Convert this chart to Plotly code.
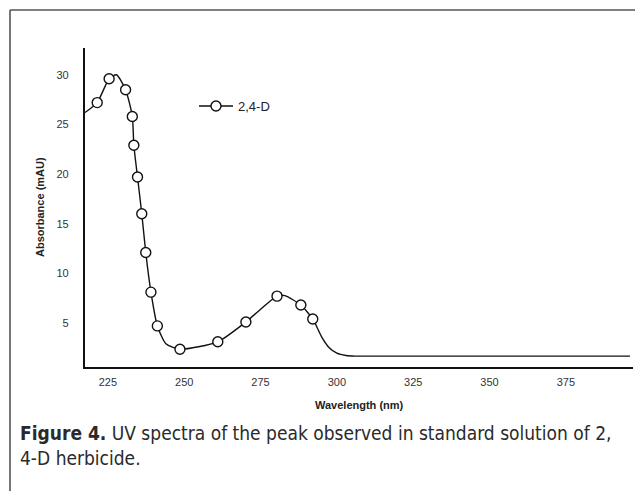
import plotly.graph_objects as go

# ---- data ----
marker_wavelength = [221.5, 225.4, 230.8, 233.0, 233.5, 234.7, 236.1, 237.4, 239.1, 241.2,
                     248.6, 261.0, 270.2, 280.4, 288.2, 292.1]
marker_absorbance = [27.2, 29.6, 28.5, 25.8, 22.9, 19.7, 16.0, 12.1, 8.1, 4.7,
                     2.35, 3.1, 5.1, 7.7, 6.8, 5.4]

# full spectrum trace (includes the points between markers)
curve_wavelength = [217.5, 221.5, 225.4, 227.8, 230.8, 233.0, 233.5, 234.7, 236.1, 237.4, 239.1,
                    241.2, 244.0, 248.6, 261.0, 270.2, 280.4, 283.0, 288.2, 292.1,
                    295.0, 297.5, 300.0, 303.0, 306.0, 396.0]
curve_absorbance = [26.2, 27.2, 29.6, 30.0, 28.5, 25.8, 22.9, 19.7, 16.0, 12.1, 8.1,
                    4.7, 2.9, 2.35, 3.1, 5.1, 7.7, 7.75, 6.8, 5.4,
                    3.6, 2.5, 1.95, 1.72, 1.66, 1.66]

x_ticks = [225, 250, 275, 300, 325, 350, 375]
y_ticks = [5, 10, 15, 20, 25, 30]

series_name = "2,4-D"
x_title = "Wavelength (nm)"
y_title = "Absorbance (mAU)"
caption_line1 = "<b>Figure 4.</b> UV spectra of the peak observed in standard solution of 2,"
caption_line2 = "4-D herbicide."

# ---- layout geometry ----
# the page body has an 8px margin, so the figure starts at screen (8, 8)
OFF = 8
W, H = 643 - OFF, 491 - OFF
SL, SR, ST, SB = 85, 633, 48, 367          # plot area in screen pixels
L = SL - OFF
R = W - (SR - OFF)
T = ST - OFF
B = H - (SB - OFF)
PW = W - L - R
PH = H - T - B


def px_x(sx):
    return (sx - OFF - L) / PW


def px_y(sy):
    return (H - B - (sy - OFF)) / PH


fig = go.Figure()

fig.add_trace(go.Scatter(
    x=curve_wavelength, y=curve_absorbance, mode="lines",
    line=dict(color="#111111", width=1.4, shape="spline", smoothing=0.6),
    showlegend=False, hoverinfo="skip"))

fig.add_trace(go.Scatter(
    x=marker_wavelength, y=marker_absorbance, mode="markers",
    marker=dict(symbol="circle", size=10, color="white",
                line=dict(color="#111111", width=1.4)),
    name=series_name, showlegend=False))

# legend-only trace so the legend shows line + open circle
fig.add_trace(go.Scatter(
    x=[None], y=[None], mode="lines+markers",
    line=dict(color="#111111", width=1.4),
    marker=dict(symbol="circle", size=10, color="white",
                line=dict(color="#111111", width=1.4)),
    name=series_name, showlegend=True))

axis_font = dict(family="Liberation Sans, Arial, sans-serif", size=11, color="#333333")

fig.update_layout(
    width=W, height=H,
    margin=dict(l=L, r=R, t=T, b=B, pad=0),
    paper_bgcolor="white", plot_bgcolor="white",
    showlegend=True,
    legend=dict(x=px_x(194), y=px_y(106), xanchor="left", yanchor="middle",
                itemwidth=34,
                bgcolor="rgba(0,0,0,0)", borderwidth=0,
                font=dict(family="Liberation Sans, Arial, sans-serif", size=13, color="#222222")),
    xaxis=dict(range=[217.5, 397], tickvals=x_ticks, showgrid=False, zeroline=False,
               showline=True, linecolor="#111111", linewidth=2.2, ticks="",
               ticklabelstandoff=4, tickfont=axis_font, mirror=False),
    yaxis=dict(range=[0.56, 32.7], tickvals=y_ticks, showgrid=False, zeroline=False,
               showline=True, linecolor="#111111", linewidth=2.2, ticks="",
               ticklabelstandoff=12, tickfont=axis_font, mirror=False),
)

title_font = dict(family="Liberation Sans, Arial, sans-serif", size=11, color="#222222")
fig.add_annotation(text="<b>" + x_title + "</b>", xref="paper", yref="paper",
                   x=px_x(359), y=px_y(405), xanchor="center", yanchor="middle",
                   showarrow=False, font=title_font)
fig.add_annotation(text="<b>" + y_title + "</b>", xref="paper", yref="paper",
                   x=px_x(40), y=px_y(207), xanchor="center", yanchor="middle",
                   showarrow=False, font=title_font, textangle=-90)

cap_font = dict(family="DejaVu Sans Condensed, Liberation Sans Narrow, sans-serif",
                size=19, color="#2a2a2a")
fig.add_annotation(text=caption_line1, xref="paper", yref="paper",
                   x=px_x(18), y=px_y(433), xanchor="left", yanchor="middle",
                   showarrow=False, font=cap_font)
fig.add_annotation(text=caption_line2, xref="paper", yref="paper",
                   x=px_x(18), y=px_y(458), xanchor="left", yanchor="middle",
                   showarrow=False, font=cap_font)

# outer frame (left and top edges)
frame = dict(color="#555555", width=1.6)
fig.add_shape(type="line", xref="paper", yref="paper",
              x0=px_x(10), x1=px_x(10), y0=px_y(10), y1=px_y(491 + 2), line=frame)
fig.add_shape(type="line", xref="paper", yref="paper",
              x0=px_x(10), x1=px_x(643 + 2), y0=px_y(10), y1=px_y(10), line=frame)

fig.write_html("out.html")
